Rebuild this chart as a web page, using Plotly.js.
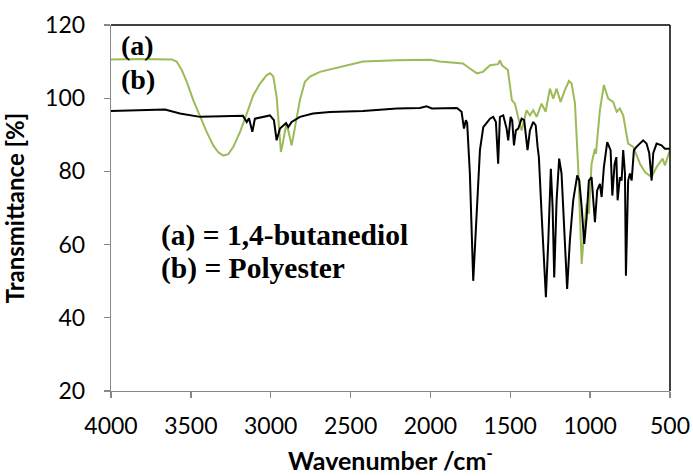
<!DOCTYPE html>
<html>
<head>
<meta charset="utf-8">
<script src="https://cdn.plot.ly/plotly-3.0.1.min.js"></script>
<style>html,body{margin:0;padding:0;background:#fff;}#chart{width:693px;height:476px;}</style>
</head>
<body>
<div id="chart"></div>
<script>
// (a) 1,4-butanediol
const wnA = [4000,3818,3620,3589,3557,3526,3485,3443,3401,3360,3328,3297,3266,3234,3192,3150,3109,3067,3025,3005,2984,2963,2948,2936,2921,2904,2890,2869,2848,2817,2786,2754,2692,2608,2504,2422,2210,2003,1941,1797,1753,1709,1671,1627,1577,1565,1552,1515,1490,1471,1452,1429,1398,1377,1356,1335,1304,1279,1252,1231,1210,1185,1158,1133,1116,1095,1075,1053,1037,1022,1008,991,970,964,939,914,887,856,834,814,793,762,730,688,657,615,584,546,532,501];
const tA  = [110.6,110.7,110.6,110.0,107.7,104.5,99.5,94.9,90.8,87.1,85.2,84.3,84.7,86.7,90.8,95.8,100.8,104.0,106.3,106.8,106.0,100.4,91.2,85.3,88.5,92.6,91.2,87.1,92.1,99.5,104.5,105.9,107.2,108.1,109.3,110.0,110.4,110.5,110.0,109.5,108.1,106.8,107.2,109.0,109.3,110.3,109.0,107.7,99.5,98.5,95.0,91.2,96.7,95.3,96.7,94.9,98.5,96.3,102.6,99.9,102.6,99.0,102.2,104.7,104.0,98.5,81.2,54.7,63.8,71.2,68.4,82.1,86.2,84.8,96.7,103.6,99.9,99.0,96.3,97.2,95.3,87.6,86.7,82.1,79.8,78.4,81.2,83.5,81.6,85.8];
// (b) Polyester
const wnB = [4000,3756,3662,3568,3505,3443,3174,3150,3136,3115,3099,3005,2980,2963,2942,2921,2904,2890,2869,2817,2735,2629,2422,2210,2066,2024,1991,1834,1805,1790,1778,1770,1753,1732,1711,1690,1669,1627,1607,1590,1576,1565,1544,1523,1513,1498,1488,1477,1465,1450,1429,1413,1392,1377,1356,1341,1329,1321,1304,1277,1262,1246,1235,1225,1210,1194,1179,1158,1144,1127,1106,1081,1068,1053,1037,1022,1008,991,970,956,939,928,914,893,872,861,847,836,828,814,803,793,782,776,762,751,740,726,710,668,647,630,615,605,584,553,532,501];
const tB  = [96.5,96.7,96.9,95.8,95.3,94.9,95.2,93.5,94.5,90.8,94.4,95.3,94.0,88.5,91.7,92.6,93.2,92.1,93.5,94.9,95.8,96.2,96.5,97.2,97.3,97.8,97.2,97.3,96.3,91.7,94.0,93.2,79.4,50.1,70.2,85.8,92.1,94.4,94.9,93.5,82.1,94.9,95.3,91.7,88.5,94.9,94.0,87.1,91.2,91.7,94.4,94.0,85.8,91.2,93.5,92.6,86.7,83.9,68.4,45.6,61.1,80.7,70.2,51.0,72.1,83.5,79.4,61.1,47.9,61.1,72.1,78.9,77.5,70.2,60.2,67.5,77.5,78.4,66.1,74.8,76.6,73.0,81.2,88.0,85.8,73.4,82.0,83.9,72.1,78.4,77.5,85.8,79.4,51.5,77.5,79.4,77.5,85.8,86.7,88.5,87.6,85.0,77.5,85.0,87.6,87.1,86.2,86.2];
const xTicks = [4000,3500,3000,2500,2000,1500,1000,500];
const yTicks = [20,40,60,80,100,120];

const traces = [
  {x: wnA, y: tA, mode: 'lines', name: '(a) 1,4-butanediol', line: {color: '#9BBB59', width: 2}},
  {x: wnB, y: tB, mode: 'lines', name: '(b) Polyester', line: {color: '#000000', width: 2}}
];

const tickFont = {family: 'Lato, "Open Sans", sans-serif', size: 23, color: '#000'};
const serif = 'Liberation Serif, "Times New Roman", serif';

const layout = {
  width: 693, height: 476,
  margin: {l: 111, r: 23, t: 25, b: 85},
  paper_bgcolor: '#fff', plot_bgcolor: '#fff',
  showlegend: false,
  xaxis: {
    range: [4000, 500], tickvals: xTicks, ticktext: xTicks.map(String),
    showgrid: false, zeroline: false, showline: true, linecolor: '#888', linewidth: 1.3,
    ticks: 'outside', ticklen: 6, tickcolor: '#888', tickwidth: 1.3,
    tickfont: tickFont, ticklabelstandoff: 8,
    title: {text: '<b>Wavenumber /cm<sup>-</sup></b>', font: {family: 'Lato, "Open Sans", sans-serif', size: 25, color: '#000'}, standoff: 14},
    automargin: false
  },
  yaxis: {
    range: [20, 120], tickvals: yTicks, ticktext: yTicks.map(String),
    showgrid: false, zeroline: false, showline: true, linecolor: '#888', linewidth: 1.3,
    ticks: 'outside', ticklen: 6, tickcolor: '#888', tickwidth: 1.3,
    tickfont: tickFont, ticklabelstandoff: 14,
    title: {text: '<b>Transmittance [%]</b>', font: {family: 'Lato, "Open Sans", sans-serif', size: 24, color: '#000'}, standoff: 13},
    automargin: false
  },
  shapes: [
    {type: 'line', xref: 'paper', yref: 'paper', x0: 0, x1: 1, y0: 1, y1: 1, line: {color: '#000', width: 1.5}},
    {type: 'line', xref: 'paper', yref: 'paper', x0: 1, x1: 1, y0: 0, y1: 1, line: {color: '#000', width: 1.5}}
  ],
  annotations: [
    {text: '<b>(a)</b>', xref: 'paper', yref: 'paper', x: 0.015, y: 0.945, xanchor: 'left', yanchor: 'middle', showarrow: false, font: {family: serif, size: 28, color: '#000'}},
    {text: '<b>(b)</b>', xref: 'paper', yref: 'paper', x: 0.015, y: 0.852, xanchor: 'left', yanchor: 'middle', showarrow: false, font: {family: serif, size: 28, color: '#000'}},
    {text: '<b>(a) = 1,4-butanediol</b>', xref: 'paper', yref: 'paper', x: 0.085, y: 0.424, xanchor: 'left', yanchor: 'middle', showarrow: false, font: {family: serif, size: 29.5, color: '#000'}},
    {text: '<b>(b) = Polyester</b>', xref: 'paper', yref: 'paper', x: 0.085, y: 0.336, xanchor: 'left', yanchor: 'middle', showarrow: false, font: {family: serif, size: 29.5, color: '#000'}}
  ]
};

Plotly.newPlot('chart', traces, layout, {displayModeBar: false, staticPlot: true});
</script>
</body>
</html>
